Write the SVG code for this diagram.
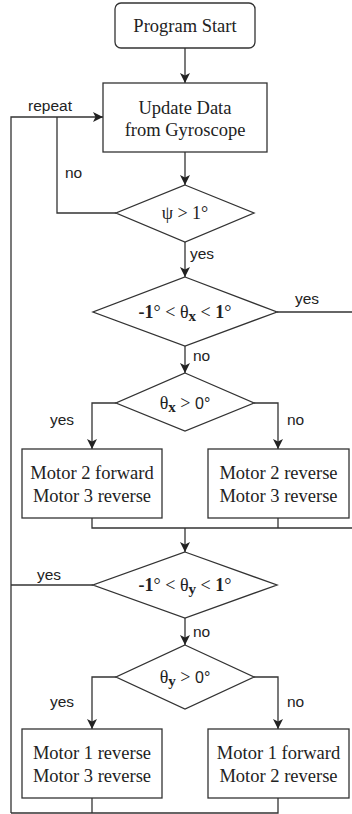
<svg xmlns="http://www.w3.org/2000/svg" width="352" height="814" viewBox="0 0 352 814">
<defs>
<marker id="ah" viewBox="0 0 10 10" refX="10" refY="5" markerWidth="10" markerHeight="10" markerUnits="userSpaceOnUse" orient="auto">
<path d="M0,0 L10,5 L0,10 L2.5,5 Z" fill="#222"/>
</marker>
<style>
.shape{fill:#fff;stroke:#333;stroke-width:1.3}
.ln{fill:none;stroke:#333;stroke-width:1.3}
.t{font-family:"Liberation Serif","Times New Roman",serif;font-size:18.5px;fill:#222;text-anchor:middle}
.d{font-size:18px}
.lb{font-family:"Liberation Sans",Arial,sans-serif;font-size:15.5px;fill:#222}
.b{font-weight:bold}
.sub{font-weight:bold;font-size:15px}
</style>
</defs>
<rect width="352" height="814" fill="#fff"/>
<g id="connectors">
<line class="ln" x1="185" y1="48" x2="185" y2="83" marker-end="url(#ah)"/>
<polyline class="ln" points="11,813 11,117 103,117" marker-end="url(#ah)"/>
<polyline class="ln" points="116,213 57,213 57,117"/>
<line class="ln" x1="185" y1="152" x2="185" y2="185" marker-end="url(#ah)"/>
<line class="ln" x1="185" y1="242" x2="185" y2="277" marker-end="url(#ah)"/>
<line class="ln" x1="277" y1="312" x2="352" y2="312"/>
<line class="ln" x1="185" y1="346" x2="185" y2="373" marker-end="url(#ah)"/>
<polyline class="ln" points="116,403 92,403 92,449" marker-end="url(#ah)"/>
<polyline class="ln" points="254,403 278,403 278,449" marker-end="url(#ah)"/>
<polyline class="ln" points="92,518 92,528 352,528"/>
<line class="ln" x1="278" y1="518" x2="278" y2="528"/>
<line class="ln" x1="185" y1="528" x2="185" y2="552" marker-end="url(#ah)"/>
<line class="ln" x1="93" y1="585" x2="11" y2="585"/>
<line class="ln" x1="185" y1="618" x2="185" y2="645" marker-end="url(#ah)"/>
<polyline class="ln" points="116,677 92,677 92,729" marker-end="url(#ah)"/>
<polyline class="ln" points="254,677 278,677 278,729" marker-end="url(#ah)"/>
<line class="ln" x1="92" y1="798" x2="92" y2="813"/>
<polyline class="ln" points="278,798 278,813 11,813"/>
<text class="lb" x="28" y="111">repeat</text>
<text class="lb" x="65" y="178">no</text>
<text class="lb" x="190" y="259">yes</text>
<text class="lb" x="295" y="304">yes</text>
<text class="lb" x="193" y="361">no</text>
<text class="lb" x="50" y="425">yes</text>
<text class="lb" x="287" y="425">no</text>
<text class="lb" x="37" y="580">yes</text>
<text class="lb" x="193" y="637">no</text>
<text class="lb" x="50" y="707">yes</text>
<text class="lb" x="287" y="707">no</text>
</g>
<g id="start">
<rect class="shape" x="115" y="3" width="140" height="45" rx="6"/>
<text class="t" x="185" y="32">Program Start</text>
</g>
<g id="update">
<rect class="shape" x="103" y="83" width="164" height="69"/>
<text class="t" x="185" y="114">Update Data</text>
<text class="t" x="185" y="136">from Gyroscope</text>
</g>
<g id="psi">
<polygon class="shape" points="185,185 254,213 185,242 116,213"/>
<text class="t d" x="185" y="219">ψ &gt; 1°</text>
</g>
<g id="thetax-range">
<polygon class="shape" points="185,277 277,312 185,346 93,312"/>
<text class="t d" x="185" y="318"><tspan class="b">-1</tspan>° &lt; θ<tspan class="sub" dy="3">x</tspan><tspan dy="-3"> &lt; </tspan><tspan class="b">1</tspan>°</text>
</g>
<g id="thetax-sign">
<polygon class="shape" points="185,373 254,403 185,431 116,403"/>
<text class="t d" x="185" y="409">θ<tspan class="sub" dy="3">x</tspan><tspan dy="-3"> &gt; </tspan><tspan font-family="Liberation Sans, Arial, sans-serif" font-size="16">0°</tspan></text>
</g>
<g id="m2f-m3r">
<rect class="shape" x="22" y="449" width="140" height="69"/>
<text class="t" x="92" y="479">Motor 2 forward</text>
<text class="t" x="92" y="502">Motor 3 reverse</text>
</g>
<g id="m2r-m3r">
<rect class="shape" x="208" y="449" width="141" height="69"/>
<text class="t" x="278.5" y="479">Motor 2 reverse</text>
<text class="t" x="278.5" y="502">Motor 3 reverse</text>
</g>
<g id="thetay-range">
<polygon class="shape" points="185,552 277,585 185,618 93,585"/>
<text class="t d" x="185" y="591"><tspan class="b">-1</tspan>° &lt; θ<tspan class="sub" dy="3">y</tspan><tspan dy="-3"> &lt; </tspan><tspan class="b">1</tspan>°</text>
</g>
<g id="thetay-sign">
<polygon class="shape" points="185,645 254,677 185,709 116,677"/>
<text class="t d" x="185" y="683">θ<tspan class="sub" dy="3">y</tspan><tspan dy="-3"> &gt; </tspan><tspan font-family="Liberation Sans, Arial, sans-serif" font-size="16">0°</tspan></text>
</g>
<g id="m1r-m3r">
<rect class="shape" x="22" y="729" width="140" height="69"/>
<text class="t" x="92" y="759">Motor 1 reverse</text>
<text class="t" x="92" y="782">Motor 3 reverse</text>
</g>
<g id="m1f-m2r">
<rect class="shape" x="208" y="729" width="141" height="69"/>
<text class="t" x="278.5" y="759">Motor 1 forward</text>
<text class="t" x="278.5" y="782">Motor 2 reverse</text>
</g>
</svg>
